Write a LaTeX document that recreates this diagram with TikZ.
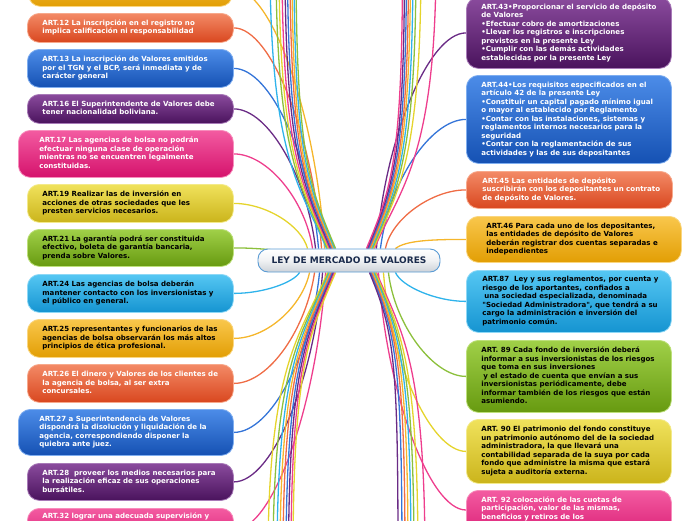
\documentclass[tikz,border=0pt]{standalone}
\usepackage{fontspec}
\newfontfamily\dvs{DejaVu Sans}
\pgfdeclarelayer{bg}
\pgfsetlayers{bg,main}
\definecolor{OrL}{HTML}{F7A98C}\definecolor{OrT}{HTML}{F38A66}\definecolor{OrB}{HTML}{D9471F}\definecolor{cOr}{HTML}{EF6C45}
\definecolor{BlL}{HTML}{7FAEF0}\definecolor{BlT}{HTML}{4C8CE8}\definecolor{BlB}{HTML}{1551B3}\definecolor{cBl}{HTML}{3474D8}
\definecolor{PuL}{HTML}{A87AB8}\definecolor{PuT}{HTML}{8A4B9D}\definecolor{PuB}{HTML}{4A135D}\definecolor{cPu}{HTML}{6A2B85}
\definecolor{PkL}{HTML}{F78DBC}\definecolor{PkT}{HTML}{F35BA1}\definecolor{PkB}{HTML}{D5126C}\definecolor{cPk}{HTML}{EE3E8D}
\definecolor{YeL}{HTML}{F3EA8A}\definecolor{YeT}{HTML}{F0E25C}\definecolor{YeB}{HTML}{CBB41B}\definecolor{cYe}{HTML}{E5D42C}
\definecolor{GrL}{HTML}{BDE07A}\definecolor{GrT}{HTML}{A0D048}\definecolor{GrB}{HTML}{679A10}\definecolor{cGr}{HTML}{8CC03C}
\definecolor{CyL}{HTML}{8ED8F6}\definecolor{CyT}{HTML}{55C7F3}\definecolor{CyB}{HTML}{1594D1}\definecolor{cCy}{HTML}{2FB3EB}
\definecolor{GoL}{HTML}{FAD67F}\definecolor{GoT}{HTML}{F9C74C}\definecolor{GoB}{HTML}{E29E04}\definecolor{cGo}{HTML}{F5B62B}
\definecolor{ctrB}{HTML}{5A9BD4}\definecolor{ctrF}{HTML}{CDD2D8}\definecolor{ctrT}{HTML}{1A2B4C}
\newcommand\mmfont{\dvs\bfseries\fontsize{7.05}{8.5}\selectfont}
\newcommand\tx[2][176pt]{\makebox[#1][l]{\begin{tabular}{@{}l@{}}#2\end{tabular}}}
\tikzset{
  mm/.style={rounded corners=12pt, draw=#1L, line width=0.8pt, top color=#1T, bottom color=#1B,
    anchor=north west, inner ysep=0pt, inner xsep=15pt, font=\mmfont},
  wt/.style={text=white}, bk/.style={text=black},
  ln/.style={draw=#1, line width=1.3pt},
  ctrbox/.style={rounded corners=10pt, draw=ctrB, line width=0.9pt, top color=white, bottom color=ctrF,
    middle color=white!70!ctrF, minimum width=182pt, minimum height=23pt, text=ctrT,
    font=\dvs\bfseries\fontsize{9}{10}\selectfont}
}
\begin{document}
\begin{tikzpicture}[x=1pt,y=-1pt]
\useasboundingbox (0,0) rectangle (696,520);
% centre
\node[ctrbox] (ctr) at (349,260.5) {LEY DE MERCADO DE VALORES};
% left nodes
\node[mm=Go, minimum width=204pt, minimum height=36pt] (n11) at (28,-30) {};
\node[mm=Or, wt, minimum height=29pt] (n12) at (27,13) {\tx{ART.12 La inscripción en el registro no\\implica calificación ni responsabilidad}};
\node[mm=Bl, wt, minimum height=38pt] (n13) at (27,49) {\tx{ART.13 La inscripción de Valores emitidos\\por el TGN y el BCP, será inmediata y de\\carácter general}};
\node[mm=Pu, wt, minimum height=29pt] (n16) at (27,94) {\tx{ART.16 El Superintendente de Valores debe\\tener nacionalidad boliviana.}};
\node[mm=Pk, wt, minimum height=47pt, inner xsep=21pt] (n17) at (18,130) {\tx[173pt]{ART.17 Las agencias de bolsa no podrán\\efectuar ninguna clase de operación\\mientras no se encuentren legalmente\\constituidas.}};
\node[mm=Ye, bk, minimum height=38pt] (n19) at (27,184) {\tx{ART.19 Realizar las de inversión en\\acciones de otras sociedades que les\\presten servicios necesarios.}};
\node[mm=Gr, bk, minimum height=37pt] (n21) at (27,229) {\tx{ART.21 La garantía podrá ser constituida\\efectivo, boleta de garantía bancaria,\\prenda sobre Valores.}};
\node[mm=Cy, bk, minimum height=38pt] (n24) at (27,274) {\tx{ART.24 Las agencias de bolsa deberán\\mantener contacto con los inversionistas y\\el público en general.}};
\node[mm=Go, bk, minimum height=38pt] (n25) at (27,319) {\tx{ART.25 representantes y funcionarios de las\\agencias de bolsa observarán los más altos\\principios de ética profesional.}};
\node[mm=Or, wt, minimum height=38pt] (n26) at (27,364) {\tx{ART.26 El dinero y Valores de los clientes de\\la agencia de bolsa, al ser extra\\concursales.}};
\node[mm=Bl, wt, minimum height=46pt, inner xsep=21pt] (n27) at (18,409) {\tx[173pt]{ART.27 a Superintendencia de Valores\\dispondrá la disolución y liquidación de la\\agencia, correspondiendo disponer la\\quiebra ante juez.}};
\node[mm=Pu, wt, minimum height=37pt] (n28) at (27,463) {\tx{ART.28 \ proveer los medios necesarios para\\la realización eficaz de sus operaciones\\bursátiles.}};
\node[mm=Pk, wt, inner ysep=4pt] (n32) at (27,508) {\parbox[t][36pt][t]{176pt}{ART.32 lograr una adecuada supervisión y}};
% right nodes
\node[mm=Pu, wt, minimum height=71pt] (n43) at (466,-3) {\tx[175pt]{ART.43•Proporcionar el servicio de depósito\\de Valores\\•Efectuar cobro de amortizaciones\\•Llevar los registros e inscripciones\\previstos en la presente Ley\\•Cumplir con las demás actividades\\establecidas por la presente Ley}};
\node[mm=Bl, wt, minimum height=88pt] (n44) at (466,75) {\tx[175pt]{ART.44•Los requisitos especificados en el\\artículo 42 de la presente Ley\\•Constituir un capital pagado mínimo igual\\o mayor al establecido por Reglamento\\•Contar con las instalaciones, sistemas y\\reglamentos internos necesarios para la\\seguridad\\•Contar con la reglamentación de sus\\actividades y las de sus depositantes}};
\node[mm=Or, wt, minimum height=37pt, inner xsep=16pt] (n45) at (466,171) {\tx[174pt]{ART.45 Las entidades de depósito\\suscribirán con los depositantes un contrato\\de depósito de Valores.}};
\node[mm=Go, bk, minimum height=46pt, inner xsep=20pt] (n46) at (466,216) {\tx[175pt]{ART.46 Para cada uno de los depositantes,\\las entidades de depósito de Valores\\deberán registrar dos cuentas separadas e\\independientes}};
\node[mm=Cy, bk, minimum height=62pt, inner xsep=16pt] (n87) at (466,270) {\tx[173pt]{ART.87 \ Ley y sus reglamentos, por cuenta y\\riesgo de los aportantes, confiados a\\\hspace*{2pt}una sociedad especializada, denominada\\"Sociedad Administradora", que tendrá a su\\cargo la administración e inversión del\\patrimonio común.}};
\node[mm=Gr, bk, minimum height=72pt] (n89) at (466,340) {\tx[175pt]{ART. 89 Cada fondo de inversión deberá\\informar a sus inversionistas de los riesgos\\que toma en sus inversiones\\\hspace*{2pt}y el estado de cuenta que envían a sus\\inversionistas periódicamente, debe\\informar también de los riesgos que están\\asumiendo.}};
\node[mm=Ye, bk, minimum height=64pt] (n90) at (466,419) {\tx[175pt]{ART. 90 El patrimonio del fondo constituye\\un patrimonio autónomo del de la sociedad\\administradora, la que llevará una\\contabilidad separada de la suya por cada\\fondo que administre la misma que estará\\sujeta a auditoría externa.}};
\node[mm=Pk, wt, inner ysep=6pt] (n92) at (466,490) {\parbox[t][44pt][t]{175pt}{ART. 92 colocación de las cuotas de\\participación, valor de las mismas,\\beneficios y retiros de los}};
% free ends of connectors leaving the view
\foreach \n/\x in {a1/270,a2/276,a3/279,a4/282,a5/285,a6/287.5,a7/290,a8/292,a9/294,a10/296}
  \coordinate (\n) at (\x,-40);
\foreach \n/\x in {b1/268,b2/273,b3/277,b4/280,b5/283,b6/286,b7/288.5,b8/291,b9/293}
  \coordinate (\n) at (\x,560);
\foreach \n/\x in {c1/436,c2/421,c3/416,c4/413,c5/410.5,c6/408.5,c7/406.5,c8/404.5,c9/402.5}
  \coordinate (\n) at (\x,-40);
\foreach \n/\x in {d1/425,d2/418,d3/414,d4/411,d5/408,d6/405,d7/402,d8/398}
  \coordinate (\n) at (\x,560);
\begin{pgfonlayer}{bg}
\clip (0,0) rectangle (696,520);
% left top
\draw[ln=cGo] (n11.east) .. controls +(40,0) and +(-8,-130) .. ([xshift=67pt]ctr.north west);
\draw[ln=cOr] (n12.east) .. controls +(38,0) and +(-8,-110) .. ([xshift=64pt]ctr.north west);
\draw[ln=cBl] (n13.east) .. controls +(37,0) and +(-8,-90) .. ([xshift=61pt]ctr.north west);
\draw[ln=cPu] (n16.east) .. controls +(35,0) and +(-8,-70) .. ([xshift=58pt]ctr.north west);
\draw[ln=cPk] (n17.east) .. controls +(34,0) and +(-7,-48) .. ([xshift=55pt]ctr.north west);
\draw[ln=cYe] (n19.east) .. controls +(32,0) and +(-6,-23) .. ([xshift=50pt]ctr.north west);
\draw[ln=cGr] (n21.east) .. controls +(30,0) and +(-20,0) .. ([xshift=44pt,yshift=-3pt]ctr.north west);
\foreach \n/\c/\s in {a1/cCy/69,a2/cGr/70,a3/cYe/71,a4/cPk/72,a5/cPu/73,a6/cBl/74,a7/cOr/75,a8/cGo/76,a9/cCy/77,a10/cGr/78}
  \draw[ln=\c] ([xshift=\s pt]ctr.north west) .. controls +(-25,-60) and +(0,200) .. (\n);
% left bottom
\draw[ln=cCy] (n24.east) .. controls +(30,0) and +(-6,10) .. ([xshift=42pt]ctr.south west);
\draw[ln=cGo] (n25.east) .. controls +(34,0) and +(-7,33) .. ([xshift=52pt]ctr.south west);
\draw[ln=cOr] (n26.east) .. controls +(36,0) and +(-8,55) .. ([xshift=57pt]ctr.south west);
\draw[ln=cBl] (n27.east) .. controls +(38,0) and +(-8,80) .. ([xshift=62pt]ctr.south west);
\draw[ln=cPu] (n28.east) .. controls +(39,0) and +(-8,105) .. ([xshift=65pt]ctr.south west);
\draw[ln=cPk] ([yshift=-22pt]n32.north east) .. controls +(40,0) and +(-8,129) .. ([xshift=68pt]ctr.south west);
\foreach \n/\c/\s in {b1/cYe/70,b2/cGr/71,b3/cCy/72,b4/cGo/73,b5/cOr/74,b6/cBl/75,b7/cPu/76,b8/cPk/77,b9/cYe/78}
  \draw[ln=\c] ([xshift=\s pt]ctr.south west) .. controls +(-25,60) and +(0,-200) .. (\n);
% right top
\draw[ln=cPu] (n43.west) .. controls +(-38,0) and +(8,-108) .. ([xshift=-64pt]ctr.north east);
\draw[ln=cBl] (n44.west) .. controls +(-36,0) and +(8,-65) .. ([xshift=-60pt]ctr.north east);
\draw[ln=cOr] (n45.west) .. controls +(-34,0) and +(6,-30) .. ([xshift=-55pt]ctr.north east);
\draw[ln=cGo] (n46.west) .. controls +(-35,0) and +(10,-8) .. ([xshift=-45pt]ctr.north east);
\foreach \n/\c/\s in {c1/cPk/-66,c2/cYe/-67,c3/cGr/-68,c4/cCy/-69,c5/cGo/-70,c6/cOr/-71,c7/cBl/-72,c8/cPu/-73,c9/cPk/-74}
  \draw[ln=\c] ([xshift=\s pt]ctr.north east) .. controls +(25,-60) and +(0,200) .. (\n);
% right bottom
\draw[ln=cCy] (n87.west) .. controls +(-30,0) and +(6,14) .. ([xshift=-45pt]ctr.south east);
\draw[ln=cGr] (n89.west) .. controls +(-33,0) and +(6,52) .. ([xshift=-52pt]ctr.south east);
\draw[ln=cYe] (n90.west) .. controls +(-35,0) and +(7,90) .. ([xshift=-57pt]ctr.south east);
\draw[ln=cPk] ([yshift=-20pt]n92.north west) .. controls +(-37,0) and +(8,119) .. ([xshift=-62pt]ctr.south east);
\foreach \n/\c/\s in {d1/cPk/-64,d2/cYe/-65,d3/cGr/-66,d4/cCy/-67,d5/cGo/-68,d6/cOr/-69,d7/cBl/-70,d8/cPu/-71}
  \draw[ln=\c] ([xshift=\s pt]ctr.south east) .. controls +(25,60) and +(0,-200) .. (\n);
\end{pgfonlayer}
\end{tikzpicture}
\end{document}
